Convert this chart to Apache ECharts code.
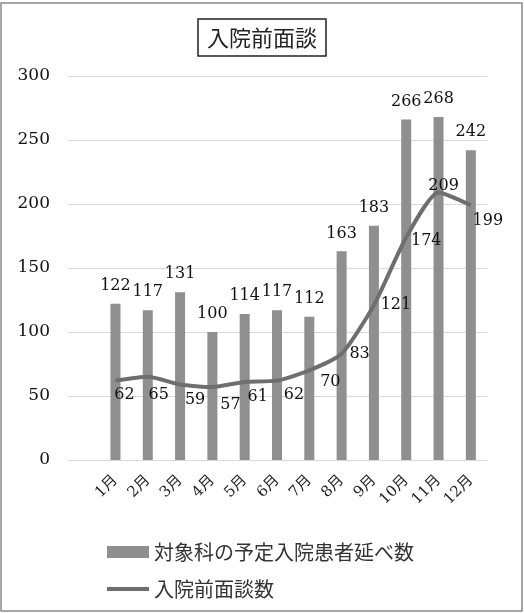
<!DOCTYPE html>
<html>
<head>
<meta charset="utf-8">
<script src="https://cdn.jsdelivr.net/npm/echarts@6/dist/echarts.min.js"></script>
<style>html,body{margin:0;padding:0;background:#fff;}#c{width:524px;height:613px;}</style>
</head>
<body>
<div id="c"></div>
<script>
var categories = ['1月','2月','3月','4月','5月','6月','7月','8月','9月','10月','11月','12月'];
var patients = [122,117,131,100,114,117,112,163,183,266,268,242];
var interviews = [62,65,59,57,61,62,70,83,121,174,209,199];
var yTicks = [0,50,100,150,200,250,300];
var barName = '対象科の予定入院患者延べ数';
var lineName = '入院前面談数';

// label placement (style, not data)
var lineLabelOffsets = [[9,14],[11,18],[15,15],[18,18],[13,15],[17,14],[21,11],[18,0],[22,0],[20,4],[5,-7],[17,16]];

var numFont = "'DejaVu Serif', 'Noto Sans CJK JP', serif";
var jpFont = "'DejaVu Serif', 'Noto Sans CJK JP', sans-serif";

var cats = [''].concat(categories);
var barData = ['-'].concat(patients);
var lineData = [{value:'-'}].concat(interviews.map(function(v,i){
  return {value:v, label:{offset:lineLabelOffsets[i]}};
}));

var chart = echarts.init(document.getElementById('c'), null, {renderer:'canvas'});
chart.setOption({
  animation:false,
  backgroundColor:'#fff',
  title:{
    text:'入院前面談',
    left:'center',
    top:19,
    padding:[7,9,7,9],
    borderColor:'#222',
    borderWidth:1.5,
    textStyle:{fontFamily:"'Noto Sans CJK JP', sans-serif",fontSize:22,fontWeight:'normal',color:'#222',lineHeight:23}
  },
  graphic:[{type:'rect',shape:{x:1,y:3,width:521,height:608},style:{fill:'none',stroke:'#8a8a8a',lineWidth:1.5},silent:true,z:-1}],
  legend:{
    orient:'vertical',
    left:102,
    top:537,
    itemGap:17,
    itemWidth:42,
    itemHeight:12,
    textStyle:{fontFamily:"'Noto Sans CJK JP', sans-serif",fontSize:20,color:'#333'},
    data:[
      {name:barName,icon:'rect'},
      {name:lineName,icon:'path://M0,0 L42,0 L42,4 L0,4 Z',itemStyle:{color:'#6e6e6e'}}
    ]
  },
  grid:{left:67,right:37,top:76,bottom:153,containLabel:false},
  xAxis:{
    type:'category',
    data:cats,
    boundaryGap:true,
    axisLine:{show:false},
    axisTick:{show:false},
    axisLabel:{rotate:45,margin:18,fontSize:15,color:'#222',fontFamily:jpFont,interval:0}
  },
  yAxis:{
    type:'value',
    min:yTicks[0],
    max:yTicks[yTicks.length-1],
    interval:yTicks[1]-yTicks[0],
    axisLine:{show:false},
    axisTick:{show:false},
    splitLine:{lineStyle:{color:'#d9d9d9',width:1}},
    axisLabel:{margin:17,fontSize:17,color:'#111',fontFamily:numFont}
  },
  series:[
    {
      name:barName,
      type:'bar',
      data:barData,
      barWidth:10,
      itemStyle:{color:'#8f8f8f'},
      label:{show:true,position:'top',distance:10,fontSize:16,color:'#111',fontFamily:numFont},
      z:2
    },
    {
      name:lineName,
      type:'line',
      data:lineData,
      smooth:0.2,
      symbol:'circle',
      symbolSize:2,
      showSymbol:true,
      itemStyle:{color:'rgba(110,110,110,0)'},
      lineStyle:{color:'#6e6e6e',width:4},
      label:{show:true,position:'inside',fontSize:16,color:'#111',fontFamily:numFont},
      z:3
    }
  ]
});
</script>
</body>
</html>
